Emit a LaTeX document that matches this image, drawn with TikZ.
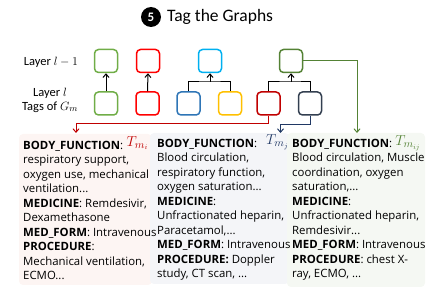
\documentclass[tikz,border=0pt]{standalone}
\usepackage{fontspec}
\setmainfont{Carlito}
\newfontfamily\panelfont{Open Sans}
\usetikzlibrary{arrows.meta}
\definecolor{cgreen}{HTML}{70AD47}
\definecolor{cred}{HTML}{FF0000}
\definecolor{ccyan}{HTML}{00B0F0}
\definecolor{cdgreen}{HTML}{548235}
\definecolor{cblue}{HTML}{2E75B6}
\definecolor{cyellow}{HTML}{FFC000}
\definecolor{cdred}{HTML}{C00000}
\definecolor{cnavy}{HTML}{333F50}
\definecolor{tnavy}{HTML}{203864}
\definecolor{pone}{HTML}{FDF5F3}
\definecolor{ptwo}{HTML}{F4F5F8}
\definecolor{pthree}{HTML}{F5F8F3}
\begin{document}
\begin{tikzpicture}[x=1pt,y=-1pt,
  tagbox/.style={draw=#1,line width=1.5pt,rounded corners=4pt,minimum size=23pt,inner sep=0pt},
  link/.style={line width=1pt,-{Straight Barb[length=3.5pt,width=6pt]}},
  plain/.style={line width=1pt},
  panel/.style={rounded corners=4pt,draw=none},
  paneltext/.style={anchor=north west,inner sep=0pt,align=left,font=\panelfont\fontsize{11.4}{14.5}\selectfont},
  tlabel/.style={inner sep=0pt,font=\fontsize{15}{15}\selectfont},
  layerlbl/.style={inner sep=0pt,font=\fontsize{12.5}{15}\selectfont,align=center}]
\useasboundingbox (0,0) rectangle (429,294);
% title
\node[circle,fill=black,minimum size=20pt,inner sep=0pt,text=white,font=\bfseries\fontsize{13}{13}\selectfont] (num) at (151,17) {5};
\node[anchor=west,inner sep=0pt,font=\fontsize{17.5}{18}\selectfont] (title) at (167,17) {Tag the Graphs};
% layer labels
\node[layerlbl] (l1) at (51,62) {Layer $l-1$};
\node[layerlbl] (l2) at (50,100) {Layer $l$\\[-1pt]Tags of $G_m$};
% panels
\fill[pone,panel] (19,134) rectangle (152,285);
\fill[ptwo,panel] (150,133) rectangle (289,284);
\fill[pthree,panel] (287,133) rectangle (425,287);
% boxes
\node[tagbox=cgreen] (ta) at (106,61) {};
\node[tagbox=cred] (tb) at (148,61) {};
\node[tagbox=ccyan] (tc) at (210,61) {};
\node[tagbox=cdgreen] (td) at (291,61) {};
\node[tagbox=cgreen] (ba) at (106,103.5) {};
\node[tagbox=cred] (bb) at (147.5,103.5) {};
\node[tagbox=cblue] (bc) at (188.5,103.5) {};
\node[tagbox=cyellow] (bd) at (230,103.5) {};
\node[tagbox=cdred] (be) at (268.5,103.5) {};
\node[tagbox=cnavy] (bf) at (310,103.5) {};
% junctions
\coordinate (jc) at (210,82);
\coordinate (jd) at (291,82);
\draw[link] (ba.north) -- (ta.south);
\draw[link] (bb.north) -- (tb.south);
\draw[plain] (bc.north) |- (jc) -| (bd.north);
\draw[link] (jc) -- (tc.south);
\draw[plain] (be.north) |- (jd) -| (bf.north);
\draw[link] (jd) -- (td.south);
% connectors to panels
\coordinate (pa) at (76,133);
\coordinate (pb) at (280.5,133);
\coordinate (pc) at (357,133);
\draw[link,cdred] (be.south) -- ++(0,8) -| (pa);
\draw[link,tnavy] (bf.south) -- ++(0,9) -| (pb);
\draw[link,cdgreen] (td.east) -| (pc);
% T labels
\node[tlabel,text=cdred] (tmi) at (137.5,143) {$T_{m_i}$};
\node[tlabel,text=tnavy] (tmj) at (277.5,142) {$T_{m_j}$};
\node[tlabel,text=cdgreen] (tmij) at (408,143) {$T_{m_{ij}}$};
% panel texts
\node[paneltext] (txa) at (23,141) {\textbf{BODY\_FUNCTION}:\\
respiratory support,\\
oxygen use, mechanical\\
ventilation...\\
\textbf{MEDICINE}: Remdesivir,\\
Dexamethasone\\
\textbf{MED\_FORM}: Intravenous\\
\textbf{PROCEDURE}:\\
Mechanical ventilation,\\
ECMO...};
\node[paneltext] (txb) at (157,139) {\textbf{BODY\_FUNCTION}:\\
Blood circulation,\\
respiratory function,\\
oxygen saturation...\\
\textbf{MEDICINE}:\\
Unfractionated heparin,\\
Paracetamol,...\\
\textbf{MED\_FORM}: Intravenous\\
\textbf{PROCEDURE:} Doppler\\
study, CT scan, ...};
\node[paneltext] (txc) at (292,139) {\textbf{BODY\_FUNCTION}:\\
Blood circulation, Muscle\\
coordination, oxygen\\
saturation,...\\
\textbf{MEDICINE}:\\
Unfractionated heparin,\\
Remdesivir...\\
\textbf{MED\_FORM}: Intravenous\\
\textbf{PROCEDURE}: chest X-\\
ray, ECMO, ...};
\end{tikzpicture}
\end{document}
